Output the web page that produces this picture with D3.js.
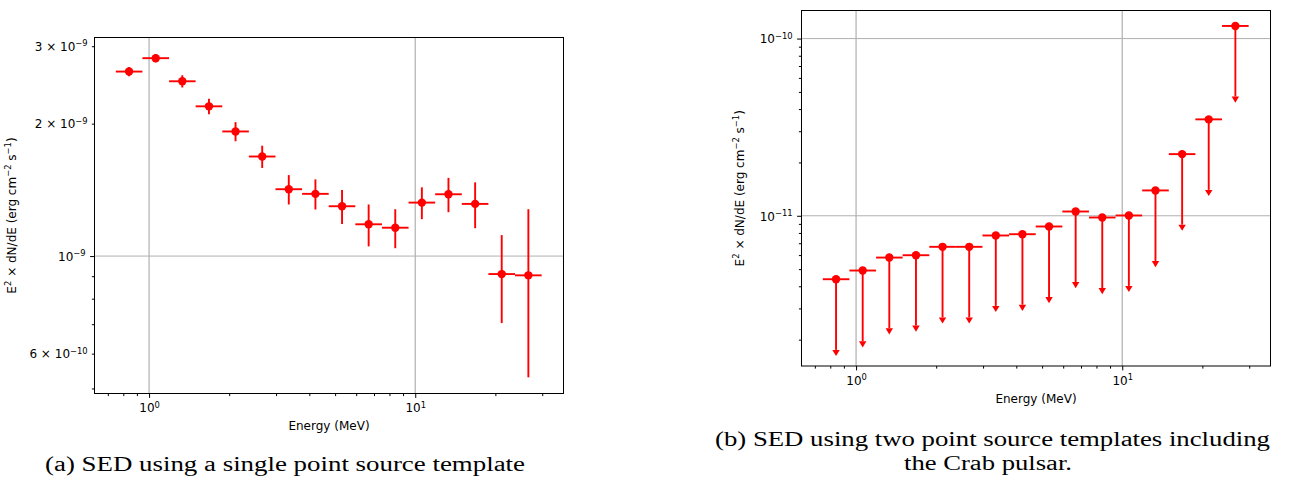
<!DOCTYPE html>
<html>
<head>
<meta charset="utf-8">
<script src="https://cdn.jsdelivr.net/npm/d3@7"></script>
<style>
  body { margin: 0; background: #ffffff; }
  svg { display: block; }
  text { font-family: "DejaVu Sans", sans-serif; fill: #000; }
  .caption { font-family: "Liberation Serif", "DejaVu Serif", serif; font-size: 20px; }
</style>
</head>
<body>
<svg id="fig" width="1299" height="482"></svg>
<script>
// Energy bins (MeV): geometric centres and edges
const energy  = [0.841, 1.059, 1.333, 1.679, 2.113, 2.661, 3.349, 4.217, 5.309, 6.683, 8.413, 10.59, 13.33, 16.79, 21.13, 26.61];
const binLow  = [0.750, 0.944, 1.189, 1.496, 1.884, 2.371, 2.985, 3.758, 4.731, 5.956, 7.498, 9.439, 11.88, 14.96, 18.83, 23.71];
const binHigh = [0.944, 1.189, 1.496, 1.884, 2.371, 2.985, 3.758, 4.731, 5.956, 7.498, 9.439, 11.88, 14.96, 18.83, 23.71, 29.85];

// (a) single point source template: E^2 dN/dE and 1-sigma errors (erg cm^-2 s^-1)
const sedSingle    = [2.627e-9, 2.818e-9, 2.497e-9, 2.190e-9, 1.920e-9, 1.684e-9, 1.419e-9, 1.385e-9,
                      1.298e-9, 1.181e-9, 1.160e-9, 1.323e-9, 1.382e-9, 1.314e-9, 0.910e-9, 0.904e-9];
const sedSingleErr = [0.064e-9, 0.062e-9, 0.080e-9, 0.090e-9, 0.096e-9, 0.098e-9, 0.109e-9, 0.109e-9,
                      0.115e-9, 0.129e-9, 0.118e-9, 0.110e-9, 0.124e-9, 0.157e-9, 0.206e-9, 0.374e-9];

// (b) two point source templates incl. Crab pulsar: upper limits and arrow ends (erg cm^-2 s^-1)
const sedTwoUL       = [4.385e-12, 4.909e-12, 5.81e-12, 5.99e-12, 6.68e-12, 6.68e-12, 7.74e-12, 7.87e-12,
                        8.70e-12, 1.057e-11, 9.78e-12, 1.004e-11, 1.39e-11, 2.228e-11, 3.50e-11, 1.178e-10];
const sedTwoArrowEnd = [1.75e-12, 1.96e-12, 2.32e-12, 2.40e-12, 2.67e-12, 2.67e-12, 3.10e-12, 3.15e-12,
                        3.48e-12, 4.23e-12, 3.91e-12, 4.02e-12, 5.56e-12, 8.91e-12, 1.40e-11, 4.71e-11];

// Axis limits
const energyRange = [0.6237, 36.06];
const fluxRangeA  = [0.487e-9, 3.14e-9];
const fluxRangeB  = [1.42e-12, 1.44e-10];

// Ticks and tick labels
const xMajorTicks  = [1, 10];
const xMajorLabels = ["10^0", "10^1"];
const xMinorTicks  = [0.7, 0.8, 0.9, 2, 3, 4, 5, 6, 7, 8, 9, 20, 30];

const yMajorTicksA  = [1e-9];
const yMajorLabelsA = ["10^\u22129"];
const yMinorTicksA  = [5e-10, 6e-10, 7e-10, 8e-10, 9e-10, 2e-9, 3e-9];
const yMinorLabelsA = ["", "6 \u00d7 10^\u221210", "", "", "", "2 \u00d7 10^\u22129", "3 \u00d7 10^\u22129"];

const yMajorTicksB  = [1e-11, 1e-10];
const yMajorLabelsB = ["10^\u221211", "10^\u221210"];
const yMinorTicksB  = [2e-12, 3e-12, 4e-12, 5e-12, 6e-12, 7e-12, 8e-12, 9e-12,
                       2e-11, 3e-11, 4e-11, 5e-11, 6e-11, 7e-11, 8e-11, 9e-11];
const yMinorLabelsB = yMinorTicksB.map(() => "");

const xTitle = "Energy (MeV)";
const captionA  = "(a) SED using a single point source template";
const captionB1 = "(b) SED using two point source templates including";
const captionB2 = "the Crab pulsar.";

const RED = "#ff0000";
const GRID = "#b0b0b0";
const FONT = 12;

const svg = d3.select("#fig");

// Writes "base^exp" as text with a raised, smaller exponent
function sciText(sel, str) {
  sel.text(null);
  const parts = str.split("^");
  sel.append("tspan").text(parts[0]);
  if (parts.length > 1) {
    sel.append("tspan").attr("font-size", FONT * 0.7).attr("dy", -4.6).text(parts[1]);
  }
}

function drawPanel(cfg) {
  const g = svg.append("g");
  const x = d3.scaleLog().domain(energyRange).range([cfg.left, cfg.right]);
  const y = d3.scaleLog().domain(cfg.yRange).range([cfg.bottom, cfg.top]);

  // grid lines on major ticks
  g.append("g").selectAll("line").data(xMajorTicks).join("line")
    .attr("x1", d => x(d)).attr("x2", d => x(d))
    .attr("y1", cfg.top).attr("y2", cfg.bottom)
    .attr("stroke", GRID).attr("stroke-width", 1.2);
  g.append("g").selectAll("line").data(cfg.yMajor).join("line")
    .attr("x1", cfg.left).attr("x2", cfg.right)
    .attr("y1", d => y(d)).attr("y2", d => y(d))
    .attr("stroke", GRID).attr("stroke-width", 1);

  // x axis
  const xMinor = g.append("g").attr("transform", `translate(0,${cfg.bottom})`)
    .call(d3.axisBottom(x).tickValues(xMinorTicks).tickSize(2.6).tickFormat(""));
  const xMajor = g.append("g").attr("transform", `translate(0,${cfg.bottom})`)
    .call(d3.axisBottom(x).tickValues(xMajorTicks).tickSize(4.4).tickPadding(4)
      .tickFormat((d, i) => xMajorLabels[i]));
  xMajor.selectAll("text").attr("dy", null).attr("y", 18.8).attr("font-size", FONT)
    .attr("font-family", "DejaVu Sans")
    .each(function (d, i) { sciText(d3.select(this), xMajorLabels[i]); });

  // y axis
  const yMinor = g.append("g").attr("transform", `translate(${cfg.left},0)`)
    .call(d3.axisLeft(y).tickValues(cfg.yMinor).tickSize(2.6).tickPadding(4.2)
      .tickFormat((d, i) => cfg.yMinorLabels[i]));
  const yMajor = g.append("g").attr("transform", `translate(${cfg.left},0)`)
    .call(d3.axisLeft(y).tickValues(cfg.yMajor).tickSize(4.4).tickPadding(4.4)
      .tickFormat((d, i) => cfg.yMajorLabels[i]));
  [[yMinor, cfg.yMinorLabels], [yMajor, cfg.yMajorLabels]].forEach(([ax, labels]) => {
    ax.selectAll("text").attr("font-size", FONT).attr("font-family", "DejaVu Sans")
      .attr("dy", "0.36em")
      .each(function (d, i) { if (labels[i]) sciText(d3.select(this), labels[i]); });
  });

  [xMinor, xMajor, yMinor, yMajor].forEach(ax => {
    ax.select(".domain").remove();
    ax.selectAll(".tick line").attr("stroke", "#000").attr("stroke-width", 1);
  });

  // axes frame
  g.append("rect")
    .attr("x", cfg.left).attr("y", cfg.top)
    .attr("width", cfg.right - cfg.left).attr("height", cfg.bottom - cfg.top)
    .attr("fill", "none").attr("stroke", "#000").attr("stroke-width", 1);

  // axis titles
  g.append("text")
    .attr("x", (cfg.left + cfg.right) / 2).attr("y", cfg.bottom + 36.5)
    .attr("text-anchor", "middle").attr("font-size", FONT).text(xTitle);

  const yt = g.append("text")
    .attr("transform", `translate(${cfg.yTitleX},${(cfg.top + cfg.bottom) / 2}) rotate(-90)`)
    .attr("text-anchor", "middle").attr("font-size", FONT);
  yt.append("tspan").text("E");
  yt.append("tspan").attr("font-size", FONT * 0.7).attr("dy", -4.6).text("2");
  yt.append("tspan").attr("dy", 4.6).text(" \u00d7 dN/dE (erg cm");
  yt.append("tspan").attr("font-size", FONT * 0.7).attr("dy", -4.6).text("\u22122");
  yt.append("tspan").attr("dy", 4.6).text(" s");
  yt.append("tspan").attr("font-size", FONT * 0.7).attr("dy", -4.6).text("\u22121");
  yt.append("tspan").attr("dy", 4.6).text(")");

  const marks = g.append("g");
  const idx = d3.range(energy.length);

  // horizontal bars spanning the energy bin
  marks.selectAll(".xerr").data(idx).join("line").attr("class", "xerr")
    .attr("x1", i => x(binLow[i])).attr("x2", i => x(binHigh[i]))
    .attr("y1", i => y(cfg.values[i])).attr("y2", i => y(cfg.values[i]))
    .attr("stroke", RED).attr("stroke-width", 1.9);

  if (cfg.errors) {
    marks.selectAll(".yerr").data(idx).join("line").attr("class", "yerr")
      .attr("x1", i => x(energy[i])).attr("x2", i => x(energy[i]))
      .attr("y1", i => y(cfg.values[i] - cfg.errors[i]))
      .attr("y2", i => y(cfg.values[i] + cfg.errors[i]))
      .attr("stroke", RED).attr("stroke-width", 1.9);
  }

  if (cfg.arrowEnds) {
    marks.selectAll(".ul").data(idx).join("line").attr("class", "ul")
      .attr("x1", i => x(energy[i])).attr("x2", i => x(energy[i]))
      .attr("y1", i => y(cfg.values[i]))
      .attr("y2", i => y(cfg.arrowEnds[i]))
      .attr("stroke", RED).attr("stroke-width", 1.9);
    marks.selectAll(".caret").data(idx).join("path").attr("class", "caret")
      .attr("d", i => {
        const cx = x(energy[i]), cy = y(cfg.arrowEnds[i]);
        return `M${cx - 3.7},${cy}L${cx + 3.7},${cy}L${cx},${cy + 6.2}Z`;
      })
      .attr("fill", RED);
  }

  marks.selectAll(".pt").data(idx).join("circle").attr("class", "pt")
    .attr("cx", i => x(energy[i])).attr("cy", i => y(cfg.values[i]))
    .attr("r", 4.2).attr("fill", RED);
}

drawPanel({
  left: 94.5, right: 563.5, top: 37.5, bottom: 393.5,
  yRange: fluxRangeA,
  yMajor: yMajorTicksA, yMajorLabels: yMajorLabelsA,
  yMinor: yMinorTicksA, yMinorLabels: yMinorLabelsA,
  yTitleX: 16,
  values: sedSingle, errors: sedSingleErr
});

drawPanel({
  left: 801.5, right: 1270.5, top: 10.5, bottom: 366,
  yRange: fluxRangeB,
  yMajor: yMajorTicksB, yMajorLabels: yMajorLabelsB,
  yMinor: yMinorTicksB, yMinorLabels: yMinorLabelsB,
  yTitleX: 744,
  values: sedTwoUL, arrowEnds: sedTwoArrowEnd
});

// captions
svg.append("text").attr("class", "caption")
  .attr("x", 45).attr("y", 470.5)
  .attr("textLength", 480).attr("lengthAdjust", "spacingAndGlyphs")
  .text(captionA);
svg.append("text").attr("class", "caption")
  .attr("x", 715).attr("y", 446)
  .attr("textLength", 555).attr("lengthAdjust", "spacingAndGlyphs")
  .text(captionB1);
svg.append("text").attr("class", "caption")
  .attr("x", 904).attr("y", 469.5)
  .attr("textLength", 168).attr("lengthAdjust", "spacingAndGlyphs")
  .text(captionB2);
</script>
</body>
</html>
